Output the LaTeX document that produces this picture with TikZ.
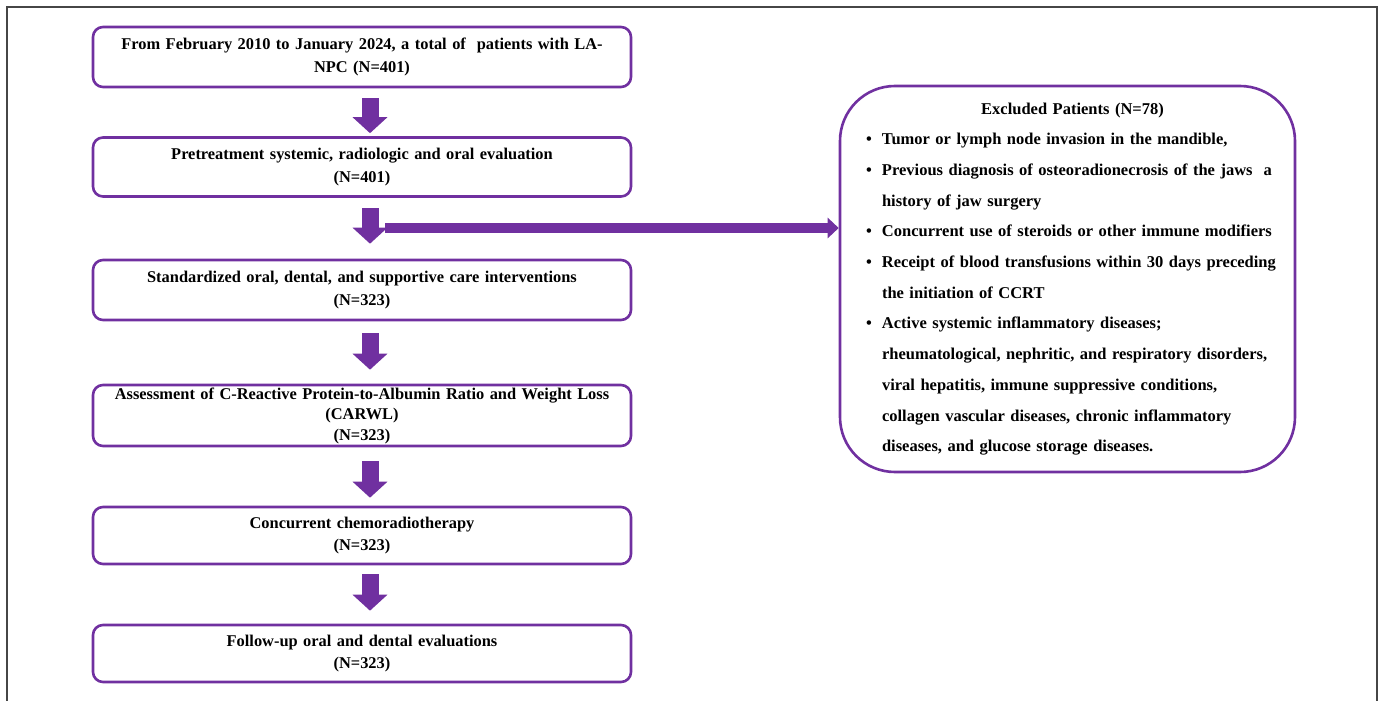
\documentclass[tikz,border=0pt]{standalone}
\usepackage{fontspec}
\setmainfont{Liberation Serif}
\usetikzlibrary{arrows.meta}
\definecolor{flowpurple}{RGB}{112,48,160}
\definecolor{framegray}{RGB}{70,70,70}
\newcommand{\exclitem}[1]{\mbox{\makebox[16pt][l]{\textbullet}#1}\par}
\newcommand{\exclcont}[1]{\mbox{\hspace*{16pt}#1}\par}

\begin{document}
\begin{tikzpicture}[x=1pt,y=-1pt,
  stagebox/.style={draw=flowpurple,line width=2.6pt,rounded corners=10pt,minimum width=538pt,text width=526pt,align=center,inner sep=0pt,font=\fontsize{16.4}{22.5}\selectfont\bfseries},
  exclbox/.style={draw=flowpurple,line width=2.6pt,rounded corners=55pt,minimum width=455pt,minimum height=386pt,text width=403pt,inner sep=0pt,font=\fontsize{16.5}{30.7}\selectfont\bfseries},
  downarrow/.style={draw=flowpurple,line width=17pt,-{Triangle[width=34pt,length=16pt]}},
  sidearrow/.style={draw=flowpurple,line width=10pt,-{Triangle[width=20pt,length=11pt]}}
]
% 1382 x 701 px, one px = 1pt
\useasboundingbox (0,0) rectangle (1382,701);
\draw[framegray,line width=2pt] (7,701) -- (7,7) -- (1377,7) -- (1377,701);

% left column
\node[stagebox,minimum height=60pt] (cohort) at (362,57) {From February 2010 to January 2024, a total of\ \ patients with LA-\\NPC (N=401)};
\node[stagebox,minimum height=59pt] (pretreat) at (362,167) {Pretreatment systemic, radiologic and oral evaluation\\(N=401)};
\node[stagebox,minimum height=60pt] (care) at (362,290) {Standardized oral, dental, and supportive care interventions\\(N=323)};
\node[stagebox,minimum height=61pt,font=\fontsize{16.4}{20.5}\selectfont\bfseries] (carwl) at (362,415.5) {Assessment of C-Reactive Protein-to-Albumin Ratio and Weight Loss\\(CARWL)\\(N=323)};
\node[stagebox,minimum height=57pt] (ccrt) at (362,535.5) {Concurrent chemoradiotherapy\\(N=323)};
\node[stagebox,minimum height=57pt] (followup) at (362,653.5) {Follow-up oral and dental evaluations\\(N=323)};

% excluded
\node[exclbox] (excl) at (1067.5,279) {%
  \centering\hspace*{10pt}Excluded Patients (N=78)\par
  \raggedright
  \exclitem{Tumor or lymph node invasion in the mandible,}
  \exclitem{Previous diagnosis of osteoradionecrosis of the jaws\ \ a}
  \exclcont{history of jaw surgery}
  \exclitem{Concurrent use of steroids or other immune modifiers}
  \exclitem{Receipt of blood transfusions within 30 days preceding}
  \exclcont{the initiation of CCRT}
  \exclitem{Active systemic inflammatory diseases;}
  \exclcont{rheumatological, nephritic, and respiratory disorders,}
  \exclcont{viral hepatitis, immune suppressive conditions,}
  \exclcont{collagen vascular diseases, chronic inflammatory}
  \exclcont{diseases, and glucose storage diseases.}
};

% arrows
\foreach \a/\b/\s/\e in {cohort/pretreat/10/3, pretreat/care/10.5/15, care/carwl/12/14, carwl/ccrt/14/8, ccrt/followup/9/13}
  \draw[downarrow,shorten <=\s pt,shorten >=\e pt] ([xshift=8pt]\a.south) -- ([xshift=8pt]\b.north);
\coordinate (branch) at (385,228);
\draw[sidearrow] (branch) -- (branch -| excl.west);
\end{tikzpicture}
\end{document}
